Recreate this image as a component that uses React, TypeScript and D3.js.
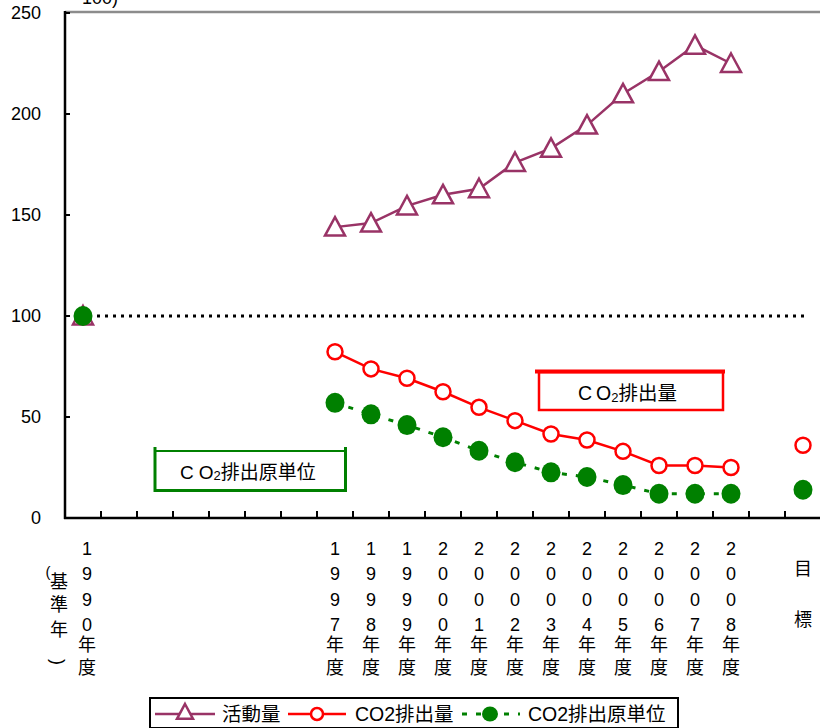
import React from "react";
import * as d3 from "d3";

const categories = [
  "1990", "1991", "1992", "1993", "1994", "1995", "1996",
  "1997", "1998", "1999", "2000", "2001", "2002", "2003", "2004",
  "2005", "2006", "2007", "2008", "gap", "目標",
];
const shownYears = ["1990", "1997", "1998", "1999", "2000", "2001", "2002", "2003", "2004", "2005", "2006", "2007", "2008"];
const yTicks = [0, 50, 100, 150, 200, 250];

const activity: (number | null)[] = [100, null, null, null, null, null, null,
  144, 146, 154.5, 160, 163, 176, 183, 194.5, 210, 221, 234, 225, null, null];
const co2: (number | null)[] = [100, null, null, null, null, null, null,
  82.3, 73.8, 69.2, 62.5, 54.8, 48.2, 41.6, 38.6, 33, 26, 26, 25, null, 36];
const intensity: (number | null)[] = [100, null, null, null, null, null, null,
  57, 51.3, 46, 40, 33.3, 27.6, 22.6, 20.3, 16.3, 12, 12, 12, null, 14];

const legendLabels = ["活動量", "CO2排出量", "CO2排出原単位"];
const unitText = "100)";
const baseLabel = ["基", "準", "年"];
const targetLabel = ["目", "標"];

const W = 820, H = 728;
const L = 65, R = 821, T = 13, B = 518;
const FONT = "'Liberation Sans', Arial, 'Noto Sans CJK JP', sans-serif";
const MAG = "#993366", RED = "#ff0000", GRN = "#008000";

export default function App() {
  const x = d3.scaleBand<string>().domain(categories).range([L, R]).padding(0);
  const y = d3.scaleLinear().domain([0, 250]).range([B, T]);
  const cx = (c: string) => (x(c) as number) + x.bandwidth() / 2;

  const mk = (vals: (number | null)[]) =>
    d3.line<number | null>()
      .defined((d) => d !== null)
      .x((_, i) => cx(categories[i]))
      .y((d) => y(d as number))(vals) as string;

  const pts = (vals: (number | null)[]) =>
    vals.map((v, i) => ({ v, c: categories[i] })).filter((p) => p.v !== null) as { v: number; c: string }[];

  const tri = (px: number, py: number, s = 10) =>
    `M${px},${py - s}L${px + s * 1.0},${py + s * 0.85}L${px - s * 1.0},${py + s * 0.85}Z`;

  const rowY = [549, 574, 600, 625, 645, 668];

  return (
    <svg width={W} height={H} style={{ position: "absolute", left: 0, top: 0, background: "#fff" }} fontFamily={FONT}>
      {/* top border */}
      <line x1={L} x2={W} y1={T - 1} y2={T - 1} stroke="#8c8c8c" strokeWidth={2.5} />
      <text x={82} y={4} fontSize={18}>{unitText}</text>

      {/* y axis */}
      <line x1={L} x2={L} y1={T - 2} y2={B + 1} stroke="#000" strokeWidth={2.5} />
      {yTicks.map((t) => (
        <g key={t}>
          <line x1={L} x2={L + 5} y1={y(t)} y2={y(t)} stroke="#000" strokeWidth={2} />
          <text x={41} y={y(t)} dy="0.36em" textAnchor="end" fontSize={18}>{t}</text>
        </g>
      ))}

      {/* x axis */}
      <line x1={L - 1} x2={W} y1={B} y2={B} stroke="#000" strokeWidth={2.5} />
      {categories.map((c, i) => i > 0 ? (
        <line key={c} x1={x(c) as number} x2={x(c) as number} y1={B} y2={B - 7} stroke="#000" strokeWidth={2} />
      ) : null)}

      {/* x labels */}
      {shownYears.map((yr) => {
        const chars = [...yr.split(""), "年", "度"];
        const px = cx(yr) + (yr === "1990" ? 4 : 0);
        return chars.map((ch, k) => (
          <text key={yr + k} x={px} y={rowY[k]} dominantBaseline="central" textAnchor="middle" fontSize={18}>{ch}</text>
        ));
      })}
      {targetLabel.map((ch, k) => (
        <text key={ch} x={cx("目標")} y={[569, 620][k]} dominantBaseline="central" textAnchor="middle" fontSize={18}>{ch}</text>
      ))}
      <text x={48} y={571} dominantBaseline="central" textAnchor="middle" fontSize={15}>(</text>
      {baseLabel.map((ch, k) => (
        <text key={ch} x={59} y={[582, 605, 630][k]} dominantBaseline="central" textAnchor="middle" fontSize={18}>{ch}</text>
      ))}
      <text x={0} y={0} transform={`translate(58,662) rotate(90)`} dominantBaseline="central" textAnchor="middle" fontSize={18}>)</text>

      {/* reference line at 100 */}
      <line x1={cx("1990") + 14} x2={cx("目標") + 2} y1={y(100)} y2={y(100)} stroke="#000" strokeWidth={3} strokeDasharray="3,5" />

      {/* activity */}
      <path d={mk(activity)} fill="none" stroke={MAG} strokeWidth={2.5} />
      {pts(activity).map((p) => (
        <path key={p.c} d={tri(cx(p.c), y(p.v))} fill="#fff" stroke={MAG} strokeWidth={2.5} />
      ))}

      {/* co2 */}
      <path d={mk(co2)} fill="none" stroke={RED} strokeWidth={2.5} />
      {pts(co2).map((p) => (
        <circle key={p.c} cx={cx(p.c)} cy={y(p.v)} r={7.5} fill="#fff" stroke={RED} strokeWidth={2.5} />
      ))}

      {/* intensity */}
      <path d={mk(intensity)} fill="none" stroke={GRN} strokeWidth={3} strokeDasharray="5,9" />
      {pts(intensity).map((p) => (
        <ellipse key={p.c} cx={cx(p.c)} cy={y(p.v)} rx={9.5} ry={10} fill={GRN} />
      ))}

      {/* annotation boxes */}
      <g>
        <rect x={155} y={451} width={190} height={39} fill="#fff" stroke={GRN} strokeWidth={2} />
        <line x1={155} x2={155} y1={447} y2={492} stroke={GRN} strokeWidth={3} />
        <line x1={345.5} x2={345.5} y1={447} y2={492} stroke={GRN} strokeWidth={3} />
        <line x1={155} x2={347} y1={490.5} y2={490.5} stroke={GRN} strokeWidth={3} />
        <text x={180} y={472} dominantBaseline="central" fontSize={19}>
          <tspan>C</tspan><tspan dx={5}>O</tspan><tspan fontSize={13} dy={3}>2</tspan><tspan dy={-3}>排出原単位</tspan>
        </text>
      </g>
      <g>
        <rect x={539} y={372} width={184} height={38} fill="#fff" stroke={RED} strokeWidth={2.5} />
        <line x1={535} x2={725} y1={371.5} y2={371.5} stroke={RED} strokeWidth={4} />
        <text x={578} y={393} dominantBaseline="central" fontSize={19.5}>
          <tspan>C</tspan><tspan dx={4}>O</tspan><tspan fontSize={13} dy={4}>2</tspan><tspan dy={-4}>排出量</tspan>
        </text>
      </g>

      {/* legend */}
      <g>
        <rect x={150} y={698} width={528} height={30} fill="#fff" stroke="#000" strokeWidth={2} />
        <line x1={155} x2={215} y1={714} y2={714} stroke={MAG} strokeWidth={2.5} />
        <path d={tri(185, 712, 8)} fill="#fff" stroke={MAG} strokeWidth={2.5} />
        <text x={222} y={714} dominantBaseline="central" fontSize={19.5}>{legendLabels[0]}</text>
        <line x1={288} x2={346} y1={714} y2={714} stroke={RED} strokeWidth={2.5} />
        <circle cx={317} cy={714} r={6} fill="#fff" stroke={RED} strokeWidth={2.5} />
        <text x={355} y={714} dominantBaseline="central" fontSize={19.5}>{legendLabels[1]}</text>
        <line x1={462} x2={520} y1={714} y2={714} stroke={GRN} strokeWidth={3} strokeDasharray="5,9" />
        <ellipse cx={490} cy={714} rx={8} ry={7.5} fill={GRN} />
        <text x={528} y={714} dominantBaseline="central" fontSize={19.5}>{legendLabels[2]}</text>
      </g>
    </svg>
  );
}
